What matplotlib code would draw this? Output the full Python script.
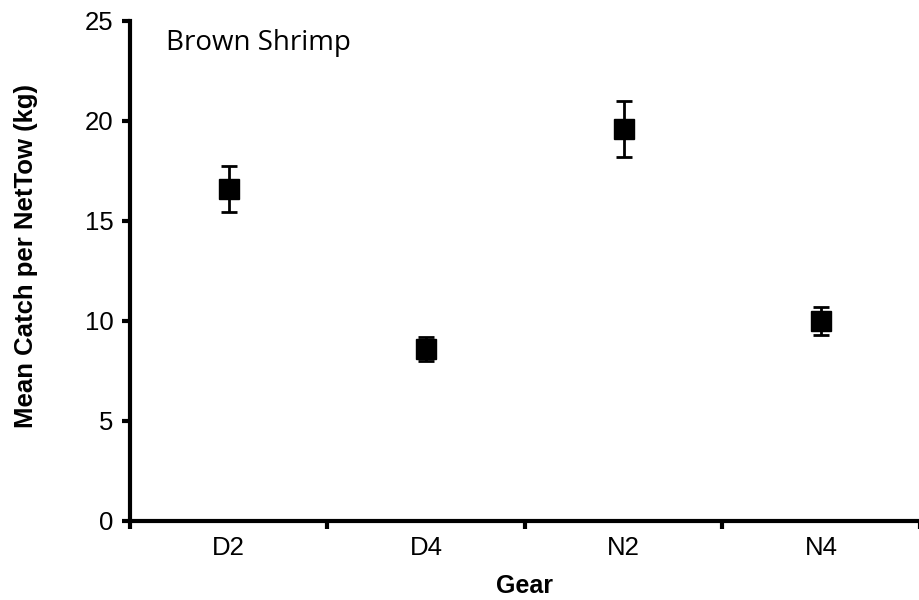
import numpy as np
import matplotlib.pyplot as plt

plt.rcParams['font.family'] = ['Liberation Sans', 'DejaVu Sans']

gears = ['D2', 'D4', 'N2', 'N4']
mean_catch = [16.6, 8.6, 19.6, 10.0]
err = [1.15, 0.6, 1.4, 0.7]

fig = plt.figure(figsize=(9.2, 6), dpi=100)
ax = fig.add_axes([0.1413, 0.1317, 0.8587, 0.8333])

x = np.arange(len(gears))
ax.errorbar(x, mean_catch, yerr=err, fmt='s', color='black', ms=14,
            ecolor='black', elinewidth=2, capsize=6, capthick=2)

ax.set_xlim(-0.5, 3.5)
ax.set_ylim(0, 25)
ax.set_yticks(np.arange(0, 26, 5))
ax.set_xticks(np.arange(-0.5, 3.6, 1))
ax.set_xticklabels([])
ax.set_xticks(x, minor=True)
ax.set_xticklabels(gears, minor=True)
ax.tick_params(axis='x', which='minor', length=0, labelsize=18.5, pad=11)
ax.tick_params(axis='x', which='major', length=6, width=3, direction='out')
ax.tick_params(axis='y', length=6, width=3, direction='out', labelsize=18.5, pad=6)

for s in ['top', 'right']:
    ax.spines[s].set_visible(False)
for s in ['left', 'bottom']:
    ax.spines[s].set_linewidth(3)

ax.set_xlabel('Gear', fontsize=18, fontweight='bold', labelpad=10)
ax.set_ylabel('Mean Catch per NetTow (kg)', fontsize=18.5, fontweight='bold')
ax.yaxis.set_label_coords(-0.117, 0.53)
ax.text(0.045, 0.955, 'Brown Shrimp', transform=ax.transAxes, fontsize=20,
        family=['Open Sans', 'DejaVu Sans'], va='center', ha='left')

fig.savefig('out.png', dpi=100)
